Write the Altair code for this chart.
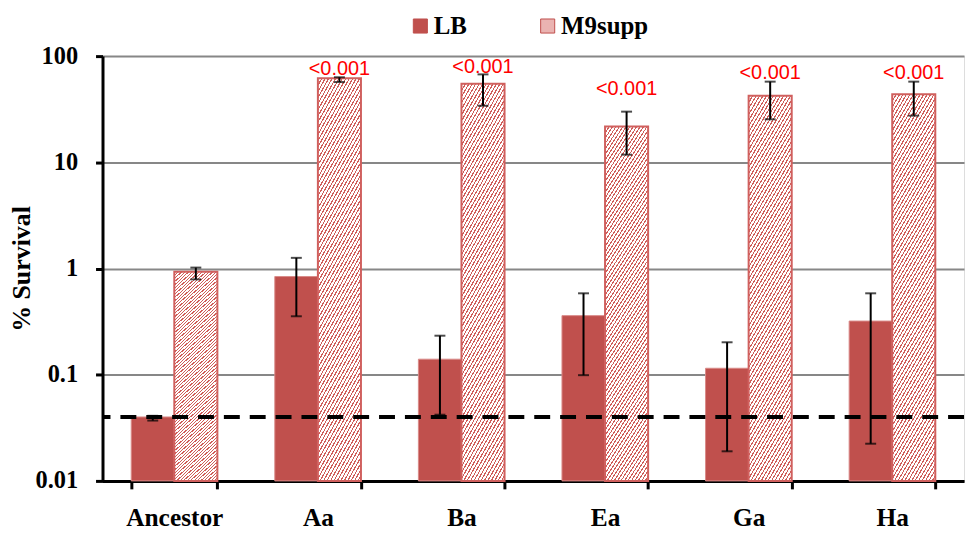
import altair as alt
import pandas as pd

# ---------------- data ----------------
groups = ["Ancestor", "Aa", "Ba", "Ea", "Ga", "Ha"]
series = ["LB", "M9supp"]

lb_mean = [0.040, 0.84, 0.14, 0.36, 0.115, 0.32]
lb_lo = [0.037, 0.355, 0.042, 0.099, 0.019, 0.0224]
lb_hi = [0.041, 1.26, 0.233, 0.584, 0.202, 0.584]

m9_mean = [0.93, 62.0, 55.0, 21.7, 42.3, 43.8]
m9_lo = [0.79, 57.0, 34.1, 11.8, 25.4, 27.5]
m9_hi = [1.02, 63.2, 67.3, 30.0, 57.5, 57.5]

p_text = ["", "<0.001", "<0.001", "<0.001", "<0.001", "<0.001"]
p_anchor = [None, 66.8, 69.8, 42.6, 61.4, 61.4]

detection_limit = [0.04]

# ---------------- tables ----------------
rows = []
for i, g in enumerate(groups):
    rows.append(dict(group=g, series="LB", mean=lb_mean[i], lo=lb_lo[i], hi=lb_hi[i]))
    rows.append(dict(group=g, series="M9supp", mean=m9_mean[i], lo=m9_lo[i], hi=m9_hi[i]))
df = pd.DataFrame(rows)

lab = pd.DataFrame({"group": groups, "series": ["M9supp"] * len(groups),
                    "p": p_text, "anchor": p_anchor}).dropna()
dl = pd.DataFrame({"v": detection_limit})

# ---------------- styles ----------------
RED = "#c0504d"
SERIF = "Liberation Serif"

# diagonal hatch approximated with a hard-stop linear gradient
N = 78
f = 0.36
stops = []
for k in range(N):
    a = k / N
    b = (k + f) / N
    c = (k + 1) / N
    stops += [alt.GradientStop(offset=a, color="#d05e5b"),
              alt.GradientStop(offset=b, color="#d05e5b"),
              alt.GradientStop(offset=b, color="#ffffff"),
              alt.GradientStop(offset=c, color="#ffffff")]
hatch = alt.LinearGradient(gradient="linear", stops=stops, x1=0, y1=0, x2=0.219, y2=1.148)

xscale = alt.Scale(domain=groups, paddingInner=0.4, paddingOuter=0.2)
yscale = alt.Scale(type="log", domain=[0.01, 100], nice=False, clamp=True)

xaxis = alt.Axis(title=None, labelFont=SERIF, labelFontWeight="bold", labelFontSize=25.5,
                 labelColor="black", labelPadding=17, tickBand="extent", tickSize=8,
                 tickWidth=3, tickColor="black", domainWidth=3, domainColor="black",
                 labelAngle=0, grid=False)
yaxis = alt.Axis(title="% Survival", titleFont=SERIF, titleFontWeight="bold", titleFontSize=26,
                 titleColor="black", titlePadding=1,
                 values=[0.01, 0.1, 1, 10, 100], format="~g",
                 labelFont=SERIF, labelFontWeight="bold", labelFontSize=24.5, labelColor="black",
                 labelPadding=18, tickSize=7, tickWidth=3, tickColor="black",
                 domainWidth=3, domainColor="black",
                 grid=True, gridColor="#878787", gridWidth=2)


def X():
    return alt.X("group:N", scale=xscale, axis=xaxis, sort=groups, title=None)


def XO():
    return alt.XOffset("series:N", scale=alt.Scale(domain=series, paddingInner=0, paddingOuter=0))


def Y(field):
    return alt.Y(field, scale=yscale, axis=yaxis, title="% Survival")


base = alt.Chart(df)

bars_lb = base.transform_filter(alt.datum.series == "LB").mark_bar(
    stroke="#d98a88", strokeWidth=1
).encode(
    x=X(), xOffset=XO(), y=Y("mean:Q"), y2=alt.datum(0.01),
    color=alt.Color("series:N", scale=alt.Scale(domain=series, range=[RED, "#eab3b1"]),
                    legend=alt.Legend(title=None, orient="none", direction="horizontal",
                                      legendX=307, legendY=-43, symbolType="square",
                                      symbolSize=200, symbolStrokeColor=RED,
                                      symbolStrokeWidth=1, labelFont=SERIF,
                                      labelFontWeight="bold", labelFontSize=25,
                                      labelColor="black", labelOffset=1,
                                      columnPadding=68)),
)

bars_m9 = base.transform_filter(alt.datum.series == "M9supp").mark_bar(
    fill=hatch, stroke="#d0605e", strokeWidth=2
).encode(x=X(), xOffset=XO(), y=Y("mean:Q"), y2=alt.datum(0.01))

err = base.mark_rule(color="black", strokeWidth=2).encode(
    x=X(), xOffset=XO(), y=Y("lo:Q"), y2="hi:Q")
cap_lo = base.mark_tick(color="black", thickness=2, size=11, orient="horizontal").encode(
    x=X(), xOffset=XO(), y=Y("lo:Q"))
cap_hi = base.mark_tick(color="black", thickness=2, size=11, orient="horizontal").encode(
    x=X(), xOffset=XO(), y=Y("hi:Q"))

dash = alt.Chart(dl).mark_rule(color="black", strokeWidth=4, strokeDash=[16, 10]).encode(
    y=Y("v:Q"))

labels = alt.Chart(lab).mark_text(
    color="#ff0000", font="Liberation Sans", fontSize=20, baseline="alphabetic", align="center"
).encode(x=X(), xOffset=XO(), y=Y("anchor:Q"), text="p:N")

chart = alt.layer(bars_lb, bars_m9, dash, err, cap_lo, cap_hi, labels).properties(
    width=866, height=427,
    padding={"left": 0, "top": 4, "right": 0, "bottom": 0},
).configure_view(stroke=None).configure(background="white")

chart.save("out.html", embed_options={"renderer": "svg", "actions": False})
